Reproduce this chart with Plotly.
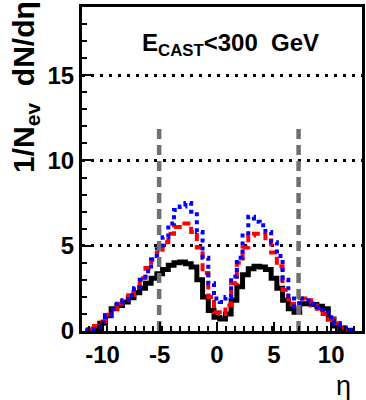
import plotly.graph_objects as go

eta = [-11.5, -11.0, -10.5, -10.0, -9.5, -9.0, -8.5, -8.0, -7.5, -7.0, -6.5, -6.0,
       -5.5, -5.0, -4.5, -4.0, -3.5, -3.0, -2.5, -2.0, -1.5, -1.0, -0.5, 0.0,
       0.5, 1.0, 1.5, 2.0, 2.5, 3.0, 3.5, 4.0, 4.5, 5.0, 5.5, 6.0,
       6.5, 7.0, 7.5, 8.0, 8.5, 9.0, 9.5, 10.0, 10.5, 11.0, 11.5, 12.0]

black_vals = [0.0, 0.05, 0.15, 0.45, 0.9, 1.3, 1.5, 1.7, 1.95, 2.25, 2.5, 2.8,
              3.1, 3.35, 3.6, 3.85, 4.0, 4.05, 3.95, 3.75, 3.0, 2.0, 1.2, 0.8,
              0.7, 1.0, 1.8, 2.6, 3.3, 3.65, 3.8, 3.75, 3.6, 3.1, 2.5, 1.8,
              1.3, 1.1, 1.6, 1.6, 1.55, 1.45, 1.3, 0.7, 0.3, 0.1, 0.05, 0.0]

red_vals = [0.02, 0.1, 0.3, 0.55, 0.95, 1.3, 1.6, 1.8, 2.1, 2.6, 3.1, 3.7,
            4.2, 4.6, 5.2, 5.7, 6.1, 6.3, 6.3, 5.8, 4.9, 3.4, 2.0, 1.1,
            1.0, 1.5, 2.8, 4.0, 4.9, 5.6, 5.7, 5.7, 5.3, 4.6, 3.8, 2.4,
            1.6, 1.3, 1.9, 1.8, 1.5, 1.3, 1.0, 0.7, 0.45, 0.2, 0.05, 0.0]

blue_vals = [0.02, 0.08, 0.25, 0.5, 0.9, 1.3, 1.6, 1.8, 2.1, 2.5, 3.0, 3.5,
             4.2, 4.8, 5.5, 6.3, 7.1, 7.3, 7.5, 7.0, 5.8, 4.3, 2.8, 1.9,
             1.7, 2.0, 3.2, 4.3, 5.6, 6.7, 6.4, 6.2, 5.8, 5.2, 4.4, 3.0,
             1.9, 1.2, 1.9, 1.8, 1.6, 1.4, 1.1, 0.8, 0.45, 0.2, 0.05, 0.0]

boundary_eta = [-5.05, 7.15]
boundary_top = 12.2

x_ticks = [-10, -5, 0, 5, 10]
y_ticks = [0, 5, 10, 15]

FONT = "Liberation Sans"

fig = go.Figure()

fig.add_trace(go.Scatter(x=eta, y=black_vals, mode="lines", line_shape="hvh",
                         line=dict(color="black", width=5), showlegend=False))
fig.add_trace(go.Scatter(x=eta, y=red_vals, mode="lines", line_shape="hvh",
                         line=dict(color="#ff0000", width=4, dash="8px,4px"), showlegend=False))
fig.add_trace(go.Scatter(x=eta, y=blue_vals, mode="lines", line_shape="hvh",
                         line=dict(color="#0000ff", width=4, dash="4px,4px"), showlegend=False))
for b in boundary_eta:
    fig.add_trace(go.Scatter(x=[b, b], y=[0, boundary_top], mode="lines",
                             line=dict(color="#707070", width=4.5, dash="10px,6px"),
                             showlegend=False))

fig.update_layout(
    width=366, height=400,
    margin=dict(l=82, r=1, t=7, b=69),
    paper_bgcolor="white", plot_bgcolor="white",
    font=dict(family=FONT, size=24, color="black", weight="bold"),
    xaxis=dict(range=[-11.8, 12.7], tickvals=x_ticks, ticktext=[str(v) for v in x_ticks],
               showline=True, linecolor="black", linewidth=3, mirror=True,
               ticks="inside", ticklen=9, tickwidth=2, tickcolor="black",
               showgrid=False, zeroline=False,
               minor=dict(dtick=0.8, tick0=0, ticks="inside", ticklen=5, tickwidth=2,
                          tickcolor="black", showgrid=False),
               tickfont=dict(family=FONT, size=24, weight="bold")),
    yaxis=dict(range=[0, 19], tickvals=y_ticks, ticktext=[str(v) for v in y_ticks],
               showline=True, linecolor="black", linewidth=3, mirror=True,
               ticks="inside", ticklen=9, tickwidth=2, tickcolor="black",
               showgrid=True, gridcolor="black", gridwidth=2.5, griddash="3px,6px",
               zeroline=False,
               minor=dict(dtick=1, ticks="inside", ticklen=5, tickwidth=2,
                          tickcolor="black", showgrid=False),
               tickfont=dict(family=FONT, size=24, weight="bold")),
    annotations=[
        dict(text="E<sub>CAST</sub>&lt;300&#160; GeV", x=1.2, y=16.8, xref="x", yref="y",
             showarrow=False, font=dict(family=FONT, size=24, weight="bold")),
        dict(text="1/N<sub>ev</sub>&#160; dN/dη", x=-0.2, y=1.025, xref="paper", yref="paper",
             xanchor="center", yanchor="top", textangle=-90, showarrow=False,
             font=dict(family=FONT, size=30, weight="bold")),
        dict(text="η", x=0.935, y=-0.17, xref="paper", yref="paper",
             xanchor="center", yanchor="middle", showarrow=False,
             font=dict(family=FONT, size=27, weight="normal")),
    ],
)

fig.write_html("out.html")
